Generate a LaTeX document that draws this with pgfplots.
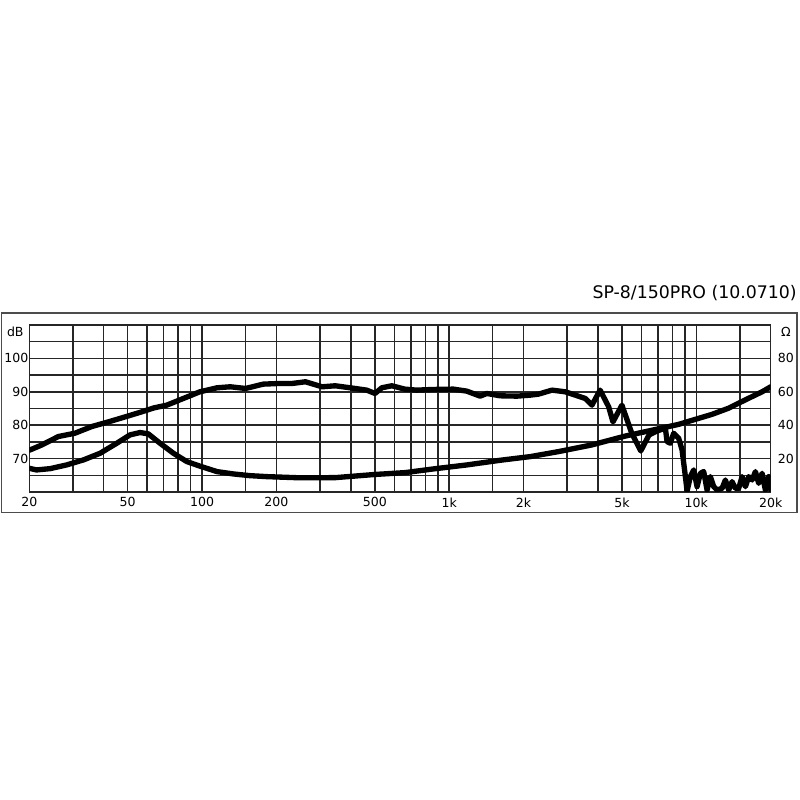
\documentclass[border=0pt]{standalone}
\usepackage{pgfplots}
\pgfplotsset{compat=1.18}
\usepackage{fontspec}
\setmainfont{DejaVu Sans}
\begin{document}
\begin{tikzpicture}
\path[use as bounding box] (0pt,0pt) rectangle (600pt,600pt);
\draw[black!70, line width=0.8pt] (1.125pt,215.475pt) rectangle (597.75pt,365.25pt);
\node[anchor=east, inner sep=0pt, font=\fontsize{13}{15}\selectfont] at (597.75pt,380.475pt) {SP-8/150PRO (10.0710)};
\node[inner sep=0pt, font=\fontsize{9.4}{11}\selectfont] at (11.475pt,351.5pt) {dB};
\node[inner sep=0pt, font=\fontsize{9.4}{11}\selectfont] at (589.5pt,351.225pt) {Ω};
\begin{axis}[
  at={(21.975pt,231pt)}, anchor=south west, scale only axis,
  width=556.05pt, height=125.25pt,
  xmode=log, xmin=20, xmax=20000, ymin=60, ymax=110,
  xtick={20,50,100,200,500,1000,2000,5000,10000,20000},
  xticklabels={20,50,100,200,500,1k,2k,5k,10k,20k},
  minor xtick={30,40,60,70,80,90,150,300,400,600,700,800,900,1500,3000,4000,6000,7000,8000,9000,15000},
  ytick={70,80,90,100}, yticklabels={70,80,90,100},
  minor ytick={65,75,85,95,105},
  grid=both,
  major grid style={black!85, line width=1.1pt},
  minor grid style={black!85, line width=1.1pt},
  axis line style={black!85, line width=1.1pt},
  major tick length=0pt, minor tick length=0pt,
  tick label style={font=\fontsize{9.4}{11}\selectfont},
  yticklabel style={inner sep=0.5pt},
  xticklabel style={inner sep=0pt, yshift=-4pt},
  clip=true,
]
\addplot[black, line width=4pt, line join=round, line cap=round] table {
20 72.5
22.5 74.1
26.2 76.6
30.6 77.6
35.8 79.6
41.8 81.0
48.9 82.5
57 84.0
64 85.2
72 86.0
84 88.0
98 90.0
115 91.2
130 91.5
150 91.0
177 92.3
207 92.5
232 92.5
262 93.0
306 91.5
346 91.8
416 91.0
464 90.5
501 89.5
534 91.2
586 91.8
662 90.8
738 90.5
862 90.7
1040 90.8
1178 90.2
1334 88.7
1420 89.5
1608 88.8
1880 88.7
2130 89.0
2298 89.3
2606 90.5
2948 90.0
3240 89.0
3556 88.0
3782 86.0
4080 90.5
4420 85.5
4600 81.0
5000 86.0
5480 77.6
5960 72.3
6440 77.1
6860 78.1
7150 78.6
7496 79.1
7614 75.1
7852 74.6
8098 77.6
8484 76.1
8758 72.6
9032 64.6
9176 60.3
9464 64.6
9758 66.6
10070 61.6
10386 65.6
10712 66.1
11054 60.6
11400 64.6
11758 61.6
12134 60.6
12712 61.1
13110 63.6
13522 60.6
13956 63.1
14392 61.1
14842 61.1
15320 64.6
15800 61.6
16292 64.6
16818 63.6
17344 66.1
17884 62.6
18462 65.6
19036 60.6
19630 64.6
20000 60.6
};
\end{axis}
\begin{axis}[
  at={(21.975pt,231pt)}, anchor=south west, scale only axis,
  width=556.05pt, height=125.25pt,
  xmode=log, xmin=20, xmax=20000, ymin=0, ymax=100,
  axis y line*=right, axis x line=none,
  axis line style={draw=none},
  ytick={20,40,60,80}, yticklabels={20,40,60,80},
  major tick length=0pt,
  tick label style={font=\fontsize{9.4}{11}\selectfont},
  yticklabel style={inner sep=0pt, xshift=5.2pt},
]
\addplot[black, line width=4pt, line join=round, line cap=round] table {
20 14.2
21.4 13.2
24.3 14.0
28.3 16.2
33.1 19.2
38.7 23.2
45.2 29.2
51.1 34.2
56.1 35.6
60.6 34.8
67.6 29.2
76.6 23.2
86.8 18.2
98 15.5
115 12.2
134 10.8
156 9.8
183 9.2
249 8.5
346 8.6
501 10.5
662 11.6
862 13.8
1178 16.2
1608 19.0
2130 21.2
2772 24.2
3782 28.2
5161 33.5
6860 37.5
8484 40.5
9910 43.5
11580 46.5
13522 50.2
15800 55.2
18462 60
20000 63
};
\end{axis}
\end{tikzpicture}
\end{document}
